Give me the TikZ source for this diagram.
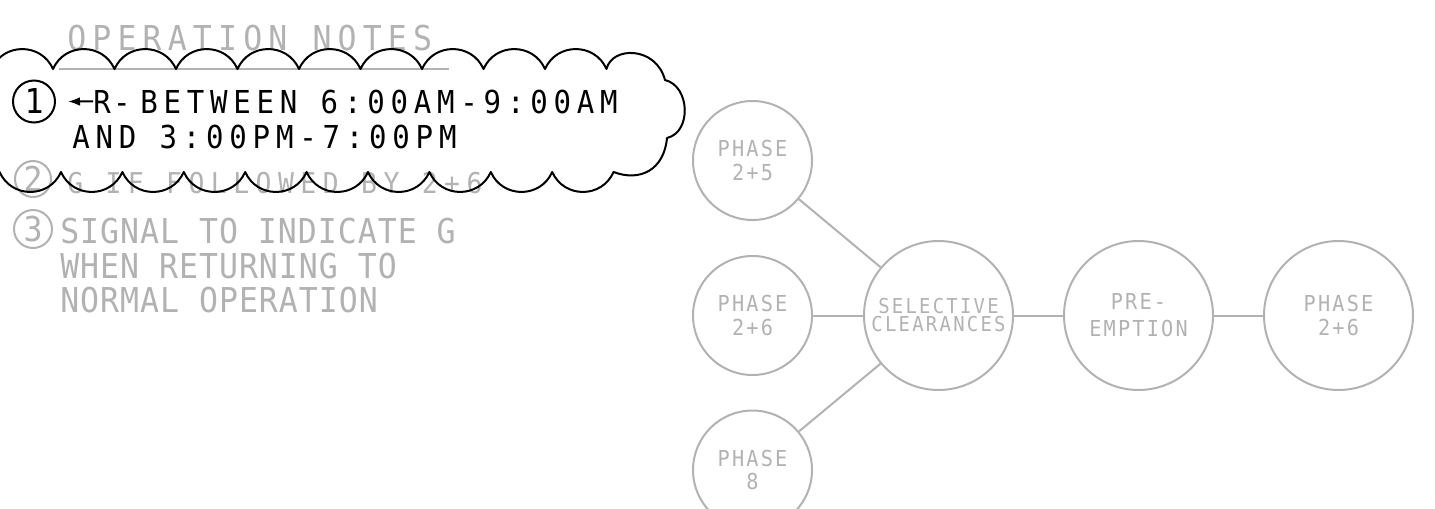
\documentclass[tikz,border=0pt]{standalone}
\usepackage{fontspec}
\setmainfont{DejaVu Sans Mono}[FakeStretch=0.92]
\usetikzlibrary{arrows.meta}

\newcommand{\listfont}{\fontsize{25.7}{26.25}\selectfont}
\newcommand{\notefont}{\fontsize{23.7}{26.25}\selectfont\addfontfeature{LetterSpace=18.3}}
\newcommand{\phasefont}{\fontsize{16.5}{17.5}\selectfont\addfontfeature{LetterSpace=10}}
\newcommand{\selfont}{\fontsize{15.4}{13.5}\selectfont\addfontfeature{LetterSpace=11}}

\begin{document}
\begin{tikzpicture}[x=0.75pt,y=0.75pt,yscale=-1,xscale=1,
  greyc/.style={color={rgb, 255:red, 178; green, 178; blue, 178 }},
  blackc/.style={color={rgb, 255:red, 0; green, 0; blue, 0 }},
  phasecirc/.style={draw, greyc, circle, line width=1.5, minimum size=89.25pt, inner sep=0pt, align=center, font=\phasefont},
  bigcirc/.style={phasecirc, minimum size=111.75pt},
  conn/.style={greyc, line width=1.5},
  numcirc/.style={draw, circle, line width=1.5, inner sep=0pt, font=\listfont},
  listtxt/.style={greyc, anchor=base west, inner sep=0pt},
  notetxt/.style={blackc, anchor=base west, inner sep=0pt, font=\notefont}]
\useasboundingbox (0,0) rectangle (1435,508);

% Text Node
\draw (67,50) node (title) [listtxt, font=\listfont\addfontfeature{LetterSpace=18}] {OPERATION NOTES};
%Straight Lines [id:da3310]
\draw [greyc, line width=1.5]    (59,69) -- (449,69) ;
%Shape: Circle [id:dp2041]
\draw (33,179) node (numtwo) [numcirc, greyc, minimum size=27pt] {2};
% Text Node
\draw (67,193) node (follow) [listtxt, font=\fontsize{21.5}{24}\selectfont\addfontfeature{LetterSpace=22.7}] {G IF FOLLOWED BY 2+6};
%Shape: Circle [id:dp2042]
\draw (33,229) node (numthree) [numcirc, greyc, minimum size=28.5pt] {3};
% Text Node
\draw (60,243) node (sigone) [listtxt, font=\listfont\addfontfeature{LetterSpace=2.9}] {SIGNAL TO INDICATE G};
% Text Node
\draw (60,278) node (sigtwo) [listtxt, font=\listfont\addfontfeature{LetterSpace=2.9}] {WHEN RETURNING TO};
% Text Node
\draw (60,312) node (sigthree) [listtxt, font=\listfont\addfontfeature{LetterSpace=2.9}] {NORMAL OPERATION};

%Curve Lines [id:da7718]
\draw [blackc, line width=1.5] [line join = round]  (-8.5,69) .. controls (3.3,42.4) and (41.2,42.4) .. (53,69) .. controls (64.8,42.4) and (102.7,42.4) .. (114.5,69) .. controls (126.3,42.4) and (164.2,42.4) .. (176,69) .. controls (187.8,42.4) and (225.7,42.4) .. (237.5,69) .. controls (249.3,42.4) and (287.2,42.4) .. (299,69) .. controls (310.8,42.4) and (348.7,42.4) .. (360.5,69) .. controls (372.3,42.4) and (410.2,42.4) .. (422,69) .. controls (433.8,42.4) and (471.7,42.4) .. (483.5,69) .. controls (495.3,42.4) and (533.2,42.4) .. (545,69) .. controls (556.8,42.4) and (594.7,42.4) .. (606.5,69) .. controls (612,46) and (656,46) .. (665,80) .. controls (690,86) and (692,132) .. (667,138) .. controls (664,170) and (640,182) .. (613.6,172) .. controls (601.8,198.6) and (564,198.6) .. (552.2,172) .. controls (540.4,198.6) and (502.6,198.6) .. (490.8,172) .. controls (479,198.6) and (441.2,198.6) .. (429.4,172) .. controls (417.6,198.6) and (379.8,198.6) .. (368,172) .. controls (356.2,198.6) and (318.4,198.6) .. (306.6,172) .. controls (294.8,198.6) and (257,198.6) .. (245.2,172) .. controls (233.4,198.6) and (195.6,198.6) .. (183.8,172) .. controls (172,198.6) and (134.2,198.6) .. (122.4,172) .. controls (110.6,198.6) and (72.8,198.6) .. (61,172) .. controls (49.2,198.6) and (11.4,198.6) .. (-0.4,172) .. controls (-40,172) and (-40,69) .. (-8.5,69) -- cycle ;

%Shape: Circle [id:dp2040]
\draw (34,101.5) node (numone) [numcirc, blackc, minimum size=31.5pt] {1};
% Text Node
\draw (93,113) node (rdash) [notetxt, font=\notefont\addfontfeature{LetterSpace=7.9}] {R-};
\coordinate (arrtip) at (68,101.5);
%Straight Lines [id:da5521]
\draw [blackc, line width=1.5, -{Latex[length=9pt,width=6.5pt]}]    (rdash.west) -- (arrtip) ;
% Text Node
\draw (140,113) node (between) [notetxt] {BETWEEN 6:00AM-9:00AM};
% Text Node
\draw (72,148) node (andline) [notetxt] {AND 3:00PM-7:00PM};

%Shape: Circle [id:dp3001]
\draw (752.5,160.5) node (phtwofive) [phasecirc] {PHASE\\2+5};
%Shape: Circle [id:dp3002]
\draw (752.5,315.5) node (phtwosix) [phasecirc] {PHASE\\2+6};
%Shape: Circle [id:dp3003]
\draw (752.5,470) node (pheight) [phasecirc] {PHASE\\8};
%Shape: Circle [id:dp3004]
\draw (938.5,315.5) node (selclr) [bigcirc, font=\selfont] {SELECTIVE\\CLEARANCES};
%Shape: Circle [id:dp3005]
\draw (1138.5,315.5) node (preempt) [bigcirc, font=\phasefont\linespread{1.15}\selectfont] {PRE-\\EMPTION};
%Shape: Circle [id:dp3006]
\draw (1338.5,315.5) node (phnext) [bigcirc] {PHASE\\2+6};

%Straight Lines [id:da4101]
\draw [conn]    (phtwofive) -- (selclr) ;
%Straight Lines [id:da4102]
\draw [conn]    (phtwosix) -- (selclr) ;
%Straight Lines [id:da4103]
\draw [conn]    (pheight) -- (selclr) ;
%Straight Lines [id:da4104]
\draw [conn]    (selclr) -- (preempt) ;
%Straight Lines [id:da4105]
\draw [conn]    (preempt) -- (phnext) ;

\end{tikzpicture}
\end{document}
